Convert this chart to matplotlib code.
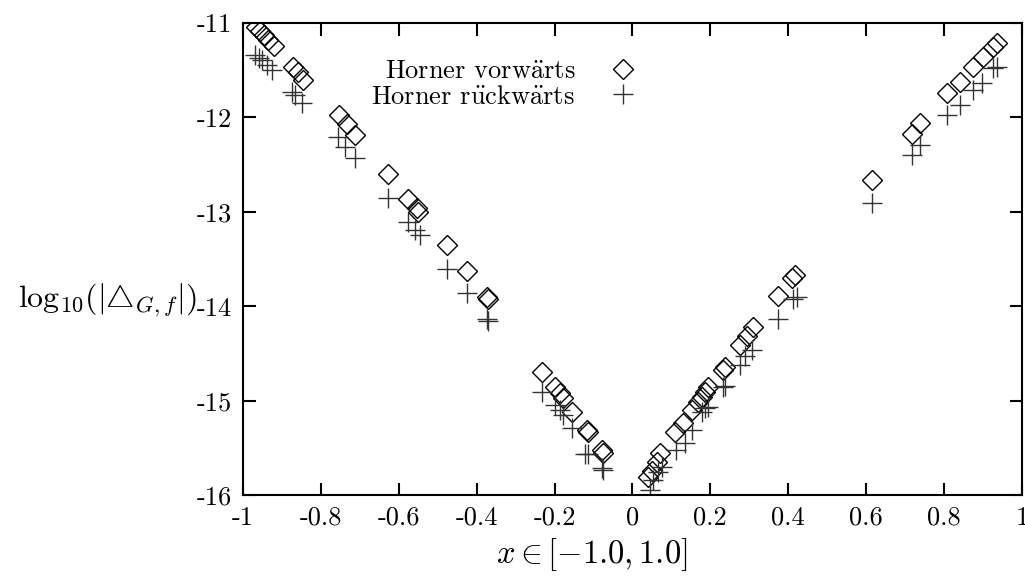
import numpy as np
import matplotlib
matplotlib.use("Agg")
import matplotlib.pyplot as plt

# Horner vorwaerts (diamonds)
x_vor = [-0.966, -0.956, -0.945, -0.935, -0.920,
         -0.871, -0.858, -0.845,
         -0.753, -0.732, -0.712,
         -0.627, -0.576, -0.553, -0.550, -0.476,
         -0.425, -0.373, -0.371,
         -0.232, -0.199, -0.186, -0.178, -0.155, -0.117, -0.114, -0.078, -0.075,
         0.040, 0.050, 0.062, 0.070, 0.109, 0.130, 0.153, 0.169, 0.179, 0.186,
         0.194, 0.232, 0.237, 0.276, 0.294, 0.309, 0.373, 0.409, 0.417,
         0.615, 0.717, 0.738, 0.807, 0.840, 0.874, 0.899, 0.925, 0.935]
y_vor = [-11.04, -11.08, -11.13, -11.18, -11.24,
         -11.47, -11.52, -11.60,
         -11.97, -12.07, -12.19,
         -12.60, -12.86, -12.96, -13.00, -13.35,
         -13.63, -13.90, -13.92,
         -14.70, -14.86, -14.92, -14.97, -15.12, -15.31, -15.33, -15.52, -15.55,
         -15.81, -15.74, -15.65, -15.55, -15.33, -15.24, -15.10, -15.01, -14.96, -14.91,
         -14.86, -14.68, -14.64, -14.41, -14.31, -14.22, -13.89, -13.70, -13.67,
         -12.66, -12.17, -12.06, -11.74, -11.62, -11.47, -11.36, -11.25, -11.21]

# Horner rueckwaerts (plus)
x_rue = [-0.968, -0.960, -0.952, -0.938, -0.925,
         -0.874, -0.866, -0.848,
         -0.756, -0.738, -0.712,
         -0.627, -0.576, -0.558, -0.545, -0.476,
         -0.425, -0.373, -0.371,
         -0.232, -0.199, -0.186, -0.178, -0.155, -0.122, -0.114, -0.078, -0.075,
         0.045, 0.052, 0.065, 0.075, 0.113, 0.134, 0.153, 0.179, 0.186, 0.194,
         0.232, 0.237, 0.276, 0.289, 0.307, 0.373, 0.412, 0.422,
         0.615, 0.717, 0.738, 0.807, 0.840, 0.874, 0.897, 0.925, 0.935]
y_rue = [-11.34, -11.37, -11.39, -11.44, -11.50,
         -11.73, -11.76, -11.85,
         -12.21, -12.31, -12.43,
         -12.85, -13.11, -13.19, -13.25, -13.60,
         -13.86, -14.14, -14.16,
         -14.91, -15.05, -15.10, -15.15, -15.29, -15.56, -15.56, -15.71, -15.73,
         -15.95, -15.84, -15.76, -15.70, -15.52, -15.45, -15.31, -15.12, -15.08, -15.07,
         -14.85, -14.84, -14.62, -14.53, -14.46, -14.13, -13.92, -13.90,
         -12.91, -12.40, -12.29, -11.97, -11.87, -11.71, -11.63, -11.48, -11.47]

x_ticks = [-1, -0.8, -0.6, -0.4, -0.2, 0, 0.2, 0.4, 0.6, 0.8, 1]
x_labels = ["-1", "-0.8", "-0.6", "-0.4", "-0.2", "0", "0.2", "0.4", "0.6", "0.8", "1"]
y_ticks = [-11, -12, -13, -14, -15, -16]
y_labels = ["-11", "-12", "-13", "-14", "-15", "-16"]

plt.rcParams["font.family"] = ["cmr10", "DejaVu Serif"]
plt.rcParams["mathtext.fontset"] = "cm"
plt.rcParams["axes.unicode_minus"] = False

fig = plt.figure(figsize=(10.25, 5.77), dpi=100)
ax = fig.add_axes([0.237, 0.142, 0.760, 0.818])

ax.plot(x_vor, y_vor, linestyle="none", marker="D", markersize=10.5,
        markerfacecolor="none", markeredgecolor="black", markeredgewidth=1.0,
        label=r"Horner vorw$\ddot{\mathrm{a}}$rts")
ax.plot(x_rue, y_rue, linestyle="none", marker="+", markersize=15,
        color="#333333", markeredgewidth=1.0,
        label=r"Horner r$\ddot{\mathrm{u}}$ckw$\ddot{\mathrm{a}}$rts")

ax.set_xlim(-1, 1)
ax.set_ylim(-16, -11)
ax.set_xticks(x_ticks)
ax.set_xticklabels(x_labels)
ax.set_yticks(y_ticks)
ax.set_yticklabels(y_labels)
ax.tick_params(direction="in", length=9, width=1.5, top=True, right=True,
               labelsize=19, pad=8)
for s in ax.spines.values():
    s.set_linewidth(1.5)

ax.set_xlabel(r"$x \in [-1.0, 1.0]$", fontsize=23.5, va="center")
ax.xaxis.set_label_coords(0.448, -0.127)
ax.set_ylabel(r"$\mathrm{log}_{10}(|{\bigtriangleup}_{G,f}|)$", fontsize=23,
              rotation=0, ha="right", va="center")
ax.yaxis.set_label_coords(-0.06, 0.413)

leg = ax.legend(loc="upper left", bbox_to_anchor=(0.148, 0.95), frameon=False,
                markerfirst=False, fontsize=19, handlelength=1.2,
                handletextpad=1.2, labelspacing=0.05, borderpad=0)
# right-align the legend rows like gnuplot does
for col in leg._legend_handle_box.get_children():
    col.align = "right"

fig.savefig("out.png", dpi=100)
